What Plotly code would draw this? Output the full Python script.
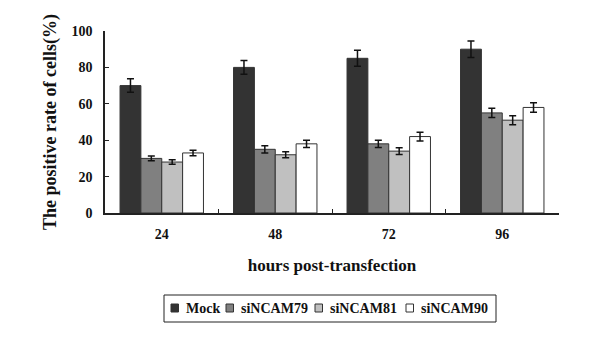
import plotly.graph_objects as go

hours = ["24", "48", "72", "96"]
series_names = ["Mock", "siNCAM79", "siNCAM81", "siNCAM90"]
mock = [70, 80, 85, 90]
mock_err = [3.7, 3.8, 4.4, 4.5]
sincam79 = [30, 35, 38, 55]
sincam79_err = [1.3, 2.0, 2.0, 2.5]
sincam81 = [28, 32, 34, 51]
sincam81_err = [1.2, 1.6, 1.8, 2.5]
sincam90 = [33, 38, 42, 58]
sincam90_err = [1.5, 2.0, 2.4, 2.6]
yticks = [0, 20, 40, 60, 80, 100]

values = [mock, sincam79, sincam81, sincam90]
errors = [mock_err, sincam79_err, sincam81_err, sincam90_err]
colors = ["#333333", "#808080", "#c0c0c0", "#ffffff"]

font_family = "Liberation Serif"
W, H = 600, 348
L, R, T, B = 97, 49, 23, 143
PW, PH = W - L - R, H - T - B


def px_x(px):
    return (px - L) / PW


def px_y(py):
    return (H - B - py) / PH


fig = go.Figure()
for name, vals, errs, col in zip(series_names, values, errors, colors):
    fig.add_trace(go.Bar(
        x=hours, y=vals, name=name, showlegend=False,
        marker=dict(color=col, line=dict(color="#333333", width=1)),
        error_y=dict(type="data", array=errs, visible=True,
                     color="#111111", thickness=1.5, width=3.5),
    ))

# Manual legend (box, swatches, labels) placed in pixel positions
legend_box = (156, 287, 488, 314)
swatch_left = [163, 218, 307, 398]
swatch_size = 7.5
swatch_top, swatch_bottom = 296, 304
label_gap = 5
label_y = 300

shapes = [dict(type="rect", xref="paper", yref="paper",
               x0=px_x(legend_box[0]), x1=px_x(legend_box[2]),
               y0=px_y(legend_box[3]), y1=px_y(legend_box[1]),
               line=dict(color="#222222", width=1), fillcolor="rgba(0,0,0,0)")]
annotations = []
for name, col, sx in zip(series_names, colors, swatch_left):
    shapes.append(dict(type="rect", xref="paper", yref="paper",
                       x0=px_x(sx), x1=px_x(sx + swatch_size),
                       y0=px_y(swatch_bottom), y1=px_y(swatch_top),
                       line=dict(color="#333333", width=1), fillcolor=col))
    annotations.append(dict(xref="paper", yref="paper",
                            x=px_x(sx + swatch_size + label_gap), y=px_y(label_y),
                            xanchor="left", yanchor="middle", showarrow=False,
                            text="<b>%s</b>" % name,
                            font=dict(family=font_family, size=14, color="#111111")))

fig.update_layout(
    width=W, height=H,
    margin=dict(l=L, r=R, t=T, b=B, autoexpand=False),
    paper_bgcolor="white", plot_bgcolor="white",
    barmode="group", bargap=0.265, bargroupgap=0,
    font=dict(family=font_family, color="#111111"),
    showlegend=False,
    shapes=shapes, annotations=annotations,
    xaxis=dict(
        showline=True, linecolor="#222222", linewidth=1.5,
        ticks="inside", tickson="boundaries", ticklen=4, tickcolor="#222222",
        tickfont=dict(family=font_family, size=14, color="#111111", weight="bold"),
        ticklabelstandoff=7,
        title=dict(text="<b>hours post-transfection</b>",
                   font=dict(family=font_family, size=17), standoff=19),
        showgrid=False, zeroline=False, automargin=False,
    ),
    yaxis=dict(
        range=[0, 100], tickvals=yticks,
        showline=True, linecolor="#222222", linewidth=1.5,
        ticks="inside", ticklen=4, tickcolor="#222222",
        tickfont=dict(family=font_family, size=14, color="#111111", weight="bold"),
        ticklabelstandoff=8,
        title=dict(text="<b>The positive rate of cells(%)</b>",
                   font=dict(family=font_family, size=18), standoff=10),
        showgrid=False, zeroline=False, automargin=False,
    ),
)

fig.write_html("out.html")
